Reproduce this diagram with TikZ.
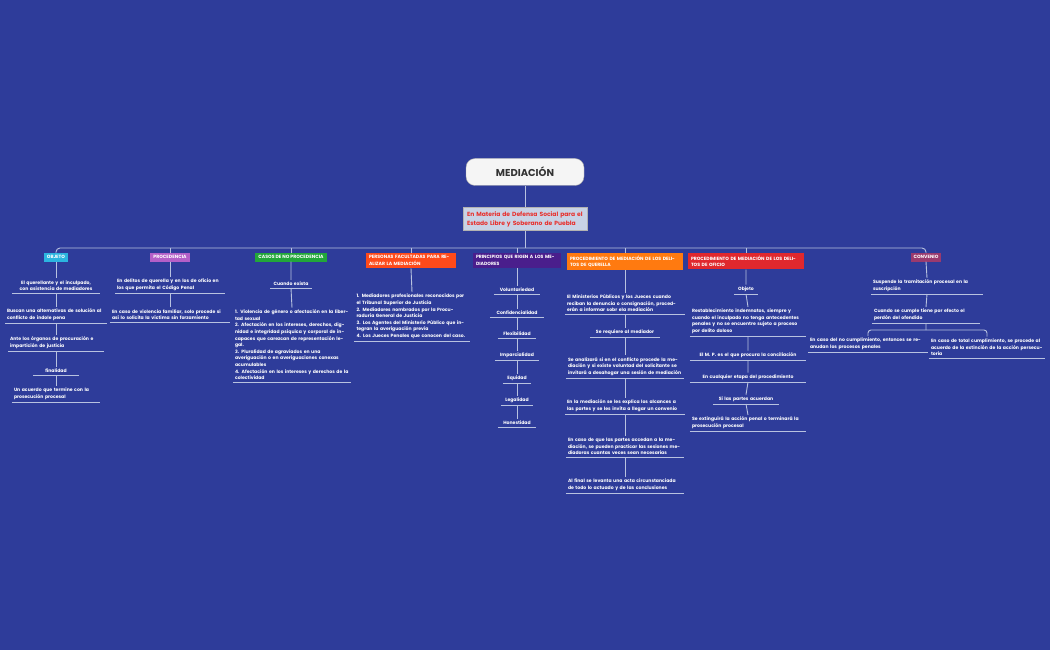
\documentclass[tikz,border=0pt]{standalone}
\usepackage{fontspec}
\setmainfont{Poppins}
\definecolor{bg}{HTML}{2E3C9A}
\definecolor{ln}{HTML}{B8C2E0}
\definecolor{cObj}{HTML}{2BB5E0}
\definecolor{cPro}{HTML}{B45FC8}
\definecolor{cCas}{HTML}{22A63A}
\definecolor{cPer}{HTML}{FF4A1A}
\definecolor{cPri}{HTML}{4A1E8C}
\definecolor{cQue}{HTML}{FF7A10}
\definecolor{cOfi}{HTML}{E0282E}
\definecolor{cCon}{HTML}{9A3A6E}
\definecolor{subf}{HTML}{C9D3E6}
\definecolor{subt}{HTML}{E8302C}
\tikzset{
 lnk/.style={draw=ln,line width=0.9pt},
 it/.style={text=white,font=\fontsize{4.6}{6.6}\selectfont\bfseries,inner xsep=2pt,inner ysep=2pt,anchor=south},
 hd/.style={text=white,font=\fontsize{4.6}{6.6}\selectfont\bfseries,inner xsep=3pt,inner ysep=2.5pt,anchor=north,align=left},
}
\newcommand\itm[6]{\node[it,text width=#4,align=#5] (#1) at (#2,#3) {#6}; \draw[lnk] (#1.south west)--(#1.south east);}
\begin{document}
\begin{tikzpicture}[x=1pt,y=-1pt]
\fill[bg] (0,0) rectangle (1050,650);
\useasboundingbox (0,0) rectangle (1050,650);
\node[draw=gray!70,fill=gray!8,rounded corners=9,minimum width=118,minimum height=27,font=\fontsize{10}{12}\selectfont\bfseries,text={black!80}] (main) at (525,172) {MEDIACIÓN};
\node[draw=gray!60,fill=subf,text=subt,text width=116,align=left,font=\fontsize{6}{9}\selectfont\bfseries,inner sep=4pt,anchor=north] (sub) at (525,207) {En Materia de Defensa Social para el Estado Libre y Soberano de Puebla};
\draw[lnk] (main.south)--(sub.north);
% headers
\node[hd,fill=cObj,align=center] (obj) at (56,253) {OBJETO};
\node[hd,fill=cPro,align=center] (pro) at (170,253) {PROCEDENCIA};
\node[hd,fill=cCas,align=center] (cas) at (291,253) {CASOS DE NO PROCEDENCIA};
\node[hd,fill=cPer,text width=84] (per) at (411,253) {PERSONAS FACULTADAS PARA REALIZAR LA MEDIACIÓN};
\node[hd,fill=cPri,text width=82] (pri) at (517,253) {PRINCIPIOS QUE RIGEN A LOS MEDIADORES};
\node[hd,fill=cQue,text width=110] (que) at (625,253) {PROCEDIMIENTO DE MEDIACIÓN DE LOS DELITOS DE QUERELLA};
\node[hd,fill=cOfi,text width=110] (ofi) at (746,253) {PROCEDIMIENTO DE MEDIACIÓN DE LOS DELITOS DE OFICIO};
\node[hd,fill=cCon,align=center] (con) at (926,253) {CONVENIO};
\coordinate (bus) at (0,248);
\draw[lnk,rounded corners=4] (obj.north) -- (obj.north |- bus) -- (con.north |- bus) -- (con.north);
\foreach \h in {pro,cas,per,pri,que,ofi} \draw[lnk] (sub.south) -- (sub.south |- bus) (\h.north) -- (\h.north |- bus);
% OBJETO
\itm{o1}{56}{293}{84}{center}{El querellante y el inculpado,\\ con asistencia de  mediadores}
\itm{o2}{56}{323}{98}{left}{Buscan una alternativas de solución al conflicto de índole pena}
\itm{o3}{56}{351}{92}{left}{Ante los órganos de procuración e impartición de justicia}
\itm{o4}{56}{375}{41}{center}{finalidad}
\itm{o5}{56}{402}{84}{left}{Un acuerdo que termine con la prosecución procesal}
\draw[lnk] (obj.south)--(o1.north) (o1.south)--(o2.north) (o2.south)--(o3.north) (o3.south)--(o4.north) (o4.south)--(o5.north);
% PROCEDENCIA
\itm{p1}{170}{293}{106}{left}{En delitos de querella y en los de oficio en los que permita el Código Penal}
\itm{p2}{170}{322}{116}{left}{En caso de violencia familiar, solo procede si así lo solicita la víctima sin forzamiento}
\draw[lnk] (pro.south)--(p1.north) (p1.south)--(p2.north);
% CASOS
\itm{c1}{291}{288}{37}{center}{Cuando exista}
\itm{c2}{292}{382}{114}{left}{1. Violencia de género  o afectación en la libertad sexual\\ 2. Afectación en los intereses, derechos, dignidad e integridad psíquica y corporal de incapaces que carezcan de representación legal.\\3. Pluralidad de agraviados en una averiguación o en averiguaciones conexas acumulables\\ 4. Afectación en los intereses y derechos de la colectividad}
\draw[lnk] (cas.south)--(c1.north) (c1.south)--(c2.north);
% PERSONAS
\itm{r1}{412}{341}{111}{left}{1.  Mediadores profesionales reconocidos por el Tribunal Superior de Justicia\\2. Mediadores nombrados por la Procuraduría General de Justicia\\3. Los Agentes del Ministerio Público que integran la averiguación previa\\4. Los Jueces Penales que conocen del caso.}
\draw[lnk] (per.south)--(r1.north);
% PRINCIPIOS
\itm{q1}{517}{294}{42}{center}{Voluntariedad}
\itm{q2}{517}{317}{50}{center}{Confidencialidad}
\itm{q3}{517}{338}{34}{center}{Flexibilidad}
\itm{q4}{517}{360}{40}{center}{Imparcialidad}
\itm{q5}{517}{383}{24}{center}{Equidad}
\itm{q6}{517}{405}{28}{center}{Legalidad}
\itm{q7}{517}{427}{34}{center}{Honestidad}
\draw[lnk] (pri.south)--(q1.north) (q1.south)--(q2.north) (q2.south)--(q3.north) (q3.south)--(q4.north) (q4.south)--(q5.north) (q5.south)--(q6.north) (q6.south)--(q7.north);
% QUERELLA
\itm{u1}{625}{314}{116}{left}{El Ministerios Públicos y los Jueces cuando reciban la denuncia o consignación, procederán a informar sobr ela mediación}
\itm{u2}{625}{337}{66}{center}{Se requiere al mediador}
\itm{u3}{625}{378}{114}{left}{Se analizará si en el conflicto procede la mediación y si existe  voluntad del solicitante se invitará a desahogar  una sesión de mediación}
\itm{u4}{625}{414}{116}{left}{En la mediación se les explica los alcances a las partes y se les invita a llegar un convenio}
\itm{u5}{625}{457}{114}{left}{En caso de que las partes accedan a la mediación, se pueden practicar las sesiones mediadoras cuantas veces sean necesarias}
\itm{u6}{625}{493}{114}{left}{Al final se levanta una acta circunstanciada de todo lo actuado y de las conclusiones}
\draw[lnk] (que.south)--(u1.north) (u1.south)--(u2.north) (u2.south)--(u3.north) (u3.south)--(u4.north) (u4.south)--(u5.north) (u5.south)--(u6.north);
% OFICIO
\itm{f1}{746}{294}{20}{center}{Objeto}
\itm{f2}{748}{336}{112}{left}{Restablecimiento indemnatos, siempre y cuando el inculpado no tenga antecedentes penales y no se encuentre sujeto a proceso por delito doloso}
\itm{f3}{748}{360}{112}{center}{El M. P. es el que procura la conciliación}
\itm{f4}{748}{382}{112}{center}{En cualquier etapa del procedimiento}
\itm{f5}{746}{404}{62}{center}{Si las partes acuerdan}
\itm{f6}{748}{431}{112}{left}{Se extinguirá la acción penal o terminará la prosecución procesal}
\draw[lnk] (ofi.south)--(f1.north) (f1.south)--(f2.north) (f2.south)--(f3.north) (f3.south)--(f4.north) (f4.south)--(f5.north) (f5.south)--(f6.north);
% CONVENIO
\itm{v1}{927}{294}{108}{left}{Suspende  la tramitación procesal en la suscripción}
\itm{v2}{926}{323}{104}{left}{Cuando se cumple tiene por efecto el perdón del ofendido}
\itm{v3}{868}{352}{116}{left}{En caso del no cumplimiento, entonces se reanudan los procesos penales}
\itm{v4}{987}{358}{112}{left}{En caso de total cumplimiento, se procede al acuerdo de la extinción de la acción persecutoria}
\coordinate (vs) at (0,330);
\draw[lnk] (con.south)--(v1.north) (v1.south)--(v2.north) (v2.south)--(v2.south |- vs);
\draw[lnk,rounded corners=3] (v3.north) -- (v3.north |- vs) -- (v4.north |- vs) -- (v4.north);
\end{tikzpicture}
\end{document}
